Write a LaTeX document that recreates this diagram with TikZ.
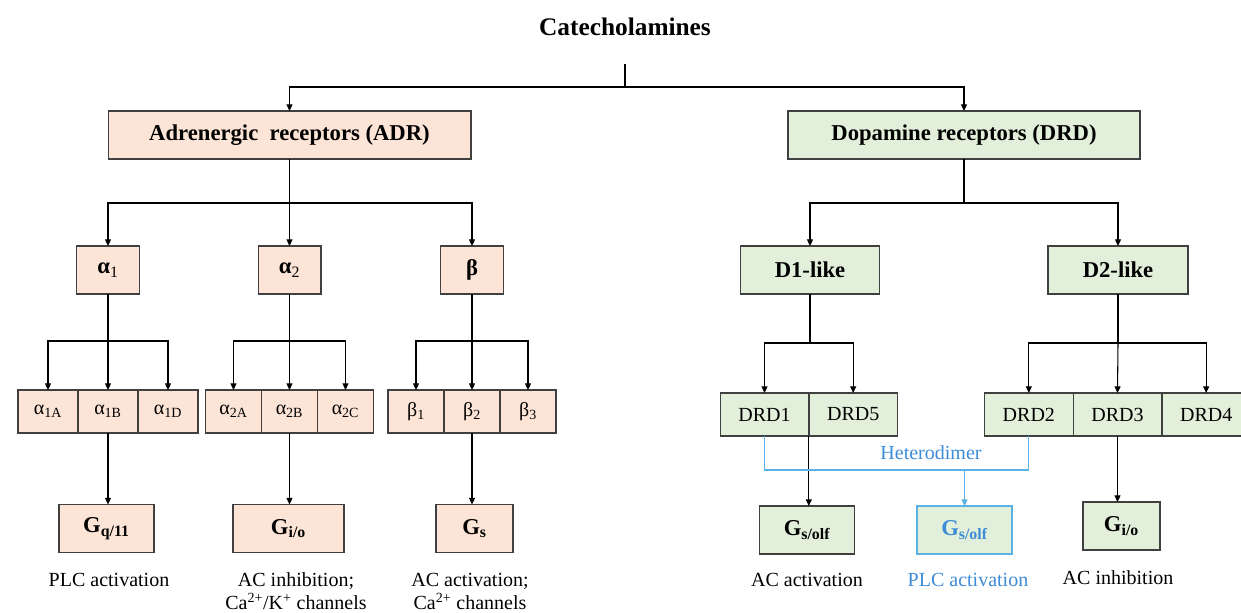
\documentclass[tikz,border=0pt]{standalone}
\usepackage{fontspec}
\setmainfont{Liberation Serif}
\usepackage{xcolor}
\usepackage{tikz}
\usetikzlibrary{positioning}
\usetikzlibrary{arrows.meta}
\tikzset{>={Triangle[width=4.5pt,length=5pt]}}
\definecolor{adrfill}{RGB}{252,228,214}
\definecolor{drdfill}{RGB}{226,239,218}
\definecolor{boxline}{RGB}{64,64,64}
\definecolor{hetline}{RGB}{91,178,228}
\definecolor{hettext}{RGB}{60,140,215}

\begin{document}
\begin{tikzpicture}[x=0.75pt, y=-0.75pt, line width=0.8pt, box/.style={draw=boxline, line width=1pt, inner sep=0pt, outer sep=0pt, minimum height=36pt}, adrbox/.style={box, fill=adrfill}, drdbox/.style={box, fill=drdfill}, headfont/.style={font=\fontsize{17}{20}\selectfont\bfseries}, subfont/.style={font=\fontsize{15}{18}\selectfont, minimum height=32.25pt}, labelnode/.style={font=\fontsize{15}{17.25}\selectfont, align=center, inner sep=0pt}]

    \clip (0,0) rectangle (1241,612);

    %Nodes
    \node[font=\fontsize{19}{22}\selectfont\bfseries, minimum height=54pt, inner sep=0pt](title) at (625,27){Catecholamines};
    \coordinate (top_split) at (625,87);
    \node[adrbox, headfont, minimum width=272pt](adr) at (289.5,135){Adrenergic\ \ receptors (ADR)};
    \node[drdbox, headfont, minimum width=264pt](drd) at (964,135){Dopamine receptors (DRD)};
    \coordinate (adr_split) at (289.5,203);
    \coordinate (drd_split) at (964,203);

    \node[adrbox, headfont, minimum width=47pt](a1) at (108,270){α\textsubscript{\mdseries 1}};
    \node[adrbox, headfont, minimum width=47pt](a2) at (289.5,270){α\textsubscript{\mdseries 2}};
    \node[adrbox, headfont, minimum width=47pt](b) at (472,270){β};
    \node[drdbox, headfont, minimum width=104pt](d1) at (810,270){D1-like};
    \node[drdbox, headfont, minimum width=105pt](d2) at (1118,270){D2-like};
    \coordinate (a1_split) at (108,341);
    \coordinate (a2_split) at (289.5,341);
    \coordinate (b_split) at (472,341);
    \coordinate (d1_split) at (810,343);
    \coordinate (d2_split) at (1118,343);

    \node[adrbox, subfont, minimum width=45pt](a1b) at (108,411.5){α\textsubscript{1B}};
    \node[adrbox, subfont, minimum width=45pt](a1a)[left=0pt of a1b]{α\textsubscript{1A}};
    \node[adrbox, subfont, minimum width=45pt](a1d)[right=0pt of a1b]{α\textsubscript{1D}};
    \node[adrbox, subfont, minimum width=42pt](a2b) at (289.5,411.5){α\textsubscript{2B}};
    \node[adrbox, subfont, minimum width=42pt](a2a)[left=0pt of a2b]{α\textsubscript{2A}};
    \node[adrbox, subfont, minimum width=42pt](a2c)[right=0pt of a2b]{α\textsubscript{2C}};
    \node[adrbox, subfont, minimum width=42pt](b2) at (472,411.5){β\textsubscript{2}};
    \node[adrbox, subfont, minimum width=42pt](b1)[left=0pt of b2]{β\textsubscript{1}};
    \node[adrbox, subfont, minimum width=42pt](b3)[right=0pt of b2]{β\textsubscript{3}};
    \node[drdbox, subfont, minimum width=66.5pt](drd1) at (764.5,414.5){DRD1};
    \node[drdbox, subfont, minimum width=66.5pt](drd5)[right=0pt of drd1]{DRD5};
    \node[drdbox, subfont, minimum width=66.5pt](drd3) at (1117.5,414.5){DRD3};
    \node[drdbox, subfont, minimum width=66.5pt](drd2)[left=0pt of drd3]{DRD2};
    \node[drdbox, subfont, minimum width=66.5pt](drd4)[right=0pt of drd3]{DRD4};

    \node[adrbox, headfont, minimum width=71.25pt](gq) at (106.5,528.5){G\textsubscript{q/11}};
    \node[adrbox, headfont, minimum width=83.25pt](gio) at (288.5,528.5){G\textsubscript{i/o}};
    \node[adrbox, headfont, minimum width=57.75pt](gs) at (474.5,528.5){G\textsubscript{s}};
    \node[drdbox, headfont, minimum width=71.25pt](gsolf) at (807,530){G\textsubscript{s/olf}};
    \node[drdbox, headfont, draw=hetline, text=hettext, minimum width=71.25pt](gsolf_het) at (964.5,530){G\textsubscript{s/olf}};
    \node[drdbox, headfont, minimum width=57.75pt](gio_d) at (1121.5,526){G\textsubscript{i/o}};

    \coordinate (het_join) at (964.5,470);
    \node[labelnode, text=hettext](het_text) at (931,453){Heterodimer};

    \node[labelnode](lab_gq) at (109,580){PLC activation};
    \node[labelnode](lab_gio) at (296,591.5){AC inhibition;\\Ca\textsuperscript{2+}/K\textsuperscript{+} channels};
    \node[labelnode](lab_gs) at (470,591.5){AC activation;\\Ca\textsuperscript{2+} channels};
    \node[labelnode](lab_gsolf) at (807,580){AC activation};
    \node[labelnode, text=hettext](lab_het) at (968,580){PLC activation};
    \node[labelnode](lab_gio_d) at (1118,578){AC inhibition};

    %Lines
    \draw (title) -- (top_split);
    \draw[->] (top_split) -| (adr.north);
    \draw[->] (top_split) -| (drd.north);

    \draw (adr.south) -- (adr_split);
    \draw[->] (adr_split) -| (a1.north);
    \draw[->] (adr_split) -- (a2.north);
    \draw[->] (adr_split) -| (b.north);
    \draw (drd.south) -- (drd_split);
    \draw[->] (drd_split) -| (d1.north);
    \draw[->] (drd_split) -| (d2.north);

    \draw (a1.south) -- (a1_split);
    \draw[->] (a1_split) -| (a1a.north);
    \draw[->] (a1_split) -- (a1b.north);
    \draw[->] (a1_split) -| (a1d.north);
    \draw (a2.south) -- (a2_split);
    \draw[->] (a2_split) -| (a2a.north);
    \draw[->] (a2_split) -- (a2b.north);
    \draw[->] (a2_split) -| (a2c.north);
    \draw (b.south) -- (b_split);
    \draw[->] (b_split) -| (b1.north);
    \draw[->] (b_split) -- (b2.north);
    \draw[->] (b_split) -| (b3.north);
    \draw (d1.south) -- (d1_split);
    \draw[->] (d1_split) -| (drd1.north);
    \draw[->] (d1_split) -| (drd5.north);
    \draw (d2.south) -- (d2_split);
    \draw[->] (d2_split) -| (drd2.north);
    \draw[->] (d2_split) -- (drd3.north);
    \draw[->] (d2_split) -| (drd4.north);

    \draw[->] (a1b.south) -- (a1b.south |- gq.north);
    \draw[->] (a2b.south) -- (a2b.south |- gio.north);
    \draw[->] (b2.south) -- (b2.south |- gs.north);
    \draw[->] (drd5.south west) -- (drd5.south west |- gsolf.north);
    \draw[->] (drd3.south) -- (drd3.south |- gio_d.north);

    \draw[hetline] (drd1.south) |- (het_join);
    \draw[hetline] (drd2.south) |- (het_join);
    \draw[hetline, ->] (het_join) -- (gsolf_het.north);

\end{tikzpicture}
\end{document}
